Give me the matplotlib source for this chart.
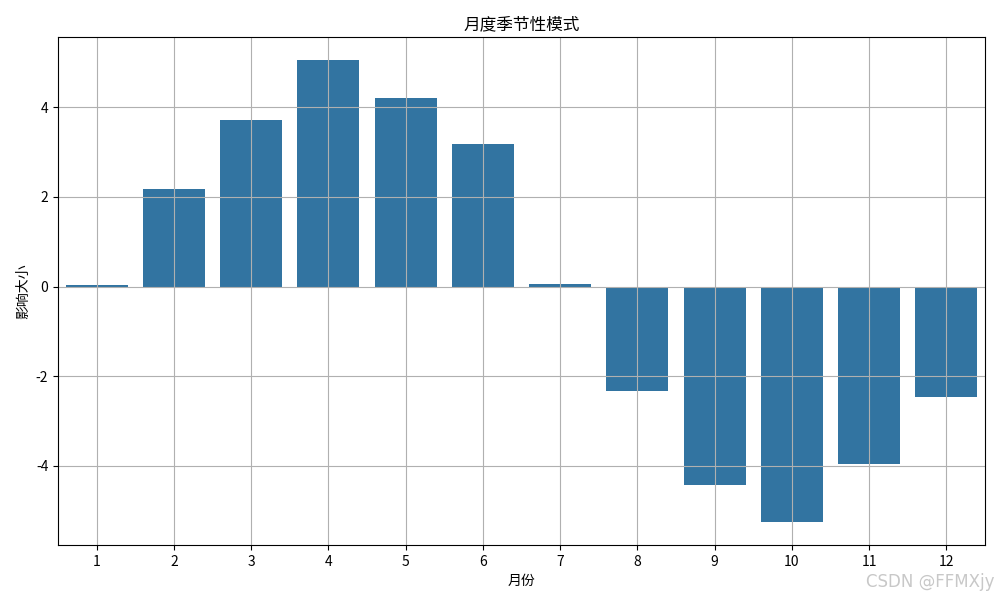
import matplotlib
matplotlib.use("Agg")
import matplotlib.pyplot as plt
import seaborn as sns

plt.rcParams['font.family'] = ['Noto Sans CJK SC', 'DejaVu Sans']
plt.rcParams['axes.unicode_minus'] = False

months = [str(m) for m in range(1, 13)]
impact = [0.03, 2.17, 3.71, 5.05, 4.20, 3.17, 0.05, -2.34, -4.42, -5.25, -3.96, -2.46]

fig, ax = plt.subplots(figsize=(10, 6), dpi=100)
sns.barplot(x=months, y=impact, ax=ax, color='#3274a1', saturation=1)
ax.set_title('月度季节性模式')
ax.set_xlabel('月份')
ax.set_ylabel('影响大小')
ax.grid(True)
fig.subplots_adjust(left=0.058, right=0.985, top=0.938, bottom=0.092)
fig.text(0.995, 0.015, 'CSDN @FFMXjy', ha='right', va='bottom', fontsize=12,
         color='#c8c8c8', family=['DejaVu Sans'])
fig.savefig('out.png')
